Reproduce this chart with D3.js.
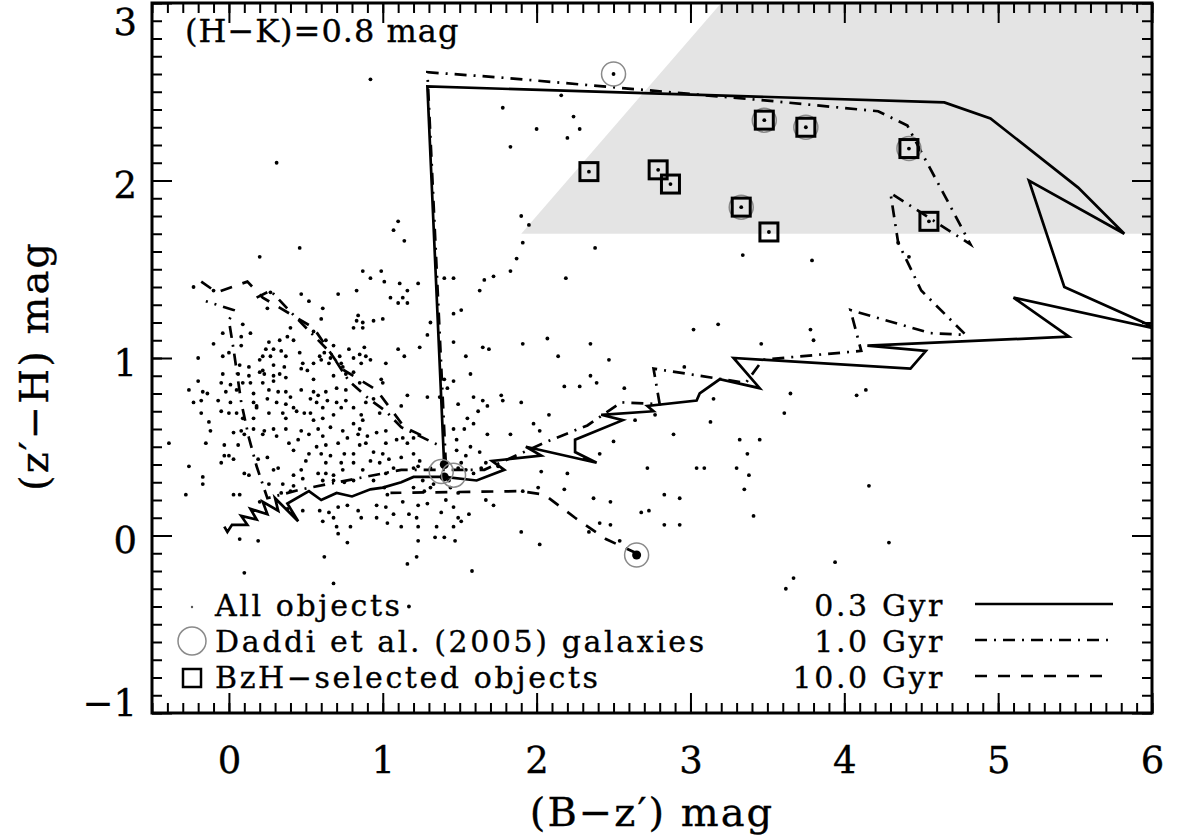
<!DOCTYPE html>
<html>
<head>
<meta charset="utf-8">
<script src="https://cdn.jsdelivr.net/npm/d3@7"></script>
<style>
body { margin: 0; background: #fff; }
text { font-family: "DejaVu Serif", serif; fill: #000; stroke: #000; stroke-width: 0.35px; }
</style>
</head>
<body>
<svg id="chart" width="1181" height="838"></svg>
<script>
// axis ticks
var xTicks = [0, 1, 2, 3, 4, 5, 6];
var yTicks = [-1, 0, 1, 2, 3];

// BzH selection region (grey)
var shadeRegion = [[1.9, 1.7], [3.2, 3.0], [6.0, 3.0], [6.0, 1.7]];

// all objects, (B-z', z'-H)
var allObjects = [
 [-0.23,1.40],[-0.10,1.38],[0.87,1.49],[0.92,1.45],[0.99,1.49],[1.01,1.43],[0.27,1.37],[0.47,1.36],[0.71,1.36],[0.83,1.38],
 [0.52,1.32],[0.61,1.28],[0.25,1.28],[0.60,1.22],[0.84,1.24],[0.83,1.21],[0.87,1.20],[0.94,1.21],[1.00,1.22],[0.81,1.17],
 [0.87,1.17],[0.09,1.19],[-0.04,1.14],[0.08,1.12],[0.14,1.14],[0.40,1.17],[0.55,1.15],[0.38,1.12],[0.26,1.09],[0.33,1.10],
 [0.42,1.10],[-0.10,1.08],[0.08,1.07],[0.63,1.10],[0.68,1.07],[0.62,1.03],[0.78,1.05],[0.85,1.02],[0.88,1.06],[0.24,1.05],
 [0.29,1.05],[0.34,1.04],[0.22,1.01],[0.27,1.01],[0.37,1.01],[0.46,1.03],[-0.20,1.00],[-0.04,1.01],[0.00,1.03],[0.07,0.96],
 [0.20,0.99],[0.48,0.97],[0.59,1.01],[0.60,0.99],[0.66,1.00],[0.72,1.01],[0.73,0.97],[0.74,0.95],[0.81,1.00],[0.89,1.01],
 [0.92,0.99],[0.86,0.97],[0.13,0.95],[0.22,0.93],[0.29,0.96],[0.36,0.95],[0.47,0.94],[0.51,0.93],[0.55,0.97],[0.65,0.97],
 [-0.04,0.91],[0.06,0.91],[0.13,0.90],[0.20,0.92],[0.23,0.91],[0.29,0.90],[0.33,0.91],[0.37,0.89],[0.29,0.87],[0.55,0.88],
 [0.68,0.90],[0.76,0.91],[0.81,0.92],[0.85,0.86],[0.99,0.88],[1.00,0.86],[-0.20,0.87],[-0.05,0.86],[0.01,0.85],[0.09,0.86],
 [0.14,0.86],[0.22,0.86],[-0.26,0.82],[-0.17,0.81],[-0.14,0.80],[-0.02,0.81],[0.05,0.82],[0.16,0.80],[0.26,0.82],[0.32,0.81],
 [0.37,0.81],[0.40,0.78],[0.47,0.82],[0.55,0.81],[0.58,0.79],[0.63,0.81],[0.70,0.83],[0.76,0.82],[-0.23,0.75],[-0.18,0.76],
 [-0.07,0.76],[0.01,0.75],[0.16,0.75],[0.18,0.73],[0.25,0.77],[0.31,0.75],[0.37,0.74],[0.42,0.72],[0.53,0.77],[0.57,0.75],
 [0.64,0.76],[0.70,0.75],[0.76,0.76],[0.89,0.75],[0.94,0.77],[-0.18,0.69],[-0.05,0.70],[0.00,0.69],[0.05,0.69],[0.18,0.72],
 [0.26,0.69],[0.35,0.69],[0.44,0.70],[0.49,0.69],[0.53,0.69],[0.61,0.72],[0.68,0.68],[0.73,0.72],[0.81,0.72],[0.86,0.68],
 [0.98,0.69],[-0.13,0.64],[0.09,0.66],[0.16,0.66],[0.37,0.66],[0.55,0.65],[0.61,0.66],[0.81,0.63],[0.87,0.65],[-0.12,0.59],
 [0.03,0.58],[0.08,0.59],[0.16,0.60],[0.23,0.59],[0.29,0.60],[0.37,0.60],[0.47,0.59],[0.58,0.60],[0.66,0.61],[0.74,0.59],
 [0.85,0.60],[0.96,0.58],
 [1.02,0.59],[1.02,0.52],[1.09,0.54],[1.13,0.55],[1.16,0.52],[1.20,0.55],[0.94,0.47],[1.00,0.46],[1.12,0.44],[1.20,0.46],
 [1.24,0.42],[0.98,0.41],[1.04,0.43],[1.07,0.38],[1.02,0.35],[0.94,0.31],[1.20,0.38],[1.23,0.39],[1.31,0.38],[1.26,0.31],
 [1.33,0.29],[1.43,0.31],[1.49,0.38],[1.54,0.37],[1.59,0.35],[1.51,0.41],[1.54,0.45],[1.48,0.48],[1.57,0.50],[1.63,0.47],
 [1.67,0.41],[1.75,0.39],[1.64,0.38],[1.48,0.54],[1.46,0.60],[1.53,0.60],[1.59,0.63],[1.68,0.57],[1.55,0.66],[1.62,0.70],
 [1.65,0.76],[1.68,0.73],[1.59,0.78],[1.42,0.83],[1.46,0.87],[1.37,0.78],[1.49,0.74],[1.29,0.78],[1.16,0.79],[1.12,0.73],
 [1.01,0.27],[1.03,0.23],[1.20,0.27],[1.27,0.25],[1.31,0.27],[1.44,0.27],[1.49,0.24],[0.96,0.17],[1.02,0.16],[1.13,0.19],
 [1.23,0.17],[1.29,0.18],[1.41,0.20],[1.46,0.16],[1.38,0.13],[1.49,0.10],[1.56,0.12],[1.67,0.20],[1.72,0.17],[0.96,0.10],
 [1.07,0.12],[1.17,0.12],[1.03,0.07],[1.12,0.05],[1.35,0.05],[1.46,0.05],[1.51,0.08],[1.23,0.05],[1.22,0.10],
 [0.10,0.57],[0.22,0.57],[0.31,0.56],[0.52,0.57],[0.61,0.56],[0.77,0.55],[0.84,0.57],[0.90,0.56],[-0.15,0.52],[-0.03,0.51],
 [0.06,0.51],[0.39,0.52],[0.45,0.54],[0.57,0.50],[0.63,0.51],[0.71,0.52],[0.85,0.51],[0.89,0.52],[-0.03,0.45],[0.03,0.43],
 [0.42,0.48],[0.52,0.46],[0.60,0.46],[0.66,0.45],[0.75,0.46],[0.81,0.46],[-0.05,0.41],[0.25,0.44],[0.50,0.42],[0.63,0.41],
 [0.73,0.41],[0.81,0.41],[0.92,0.42],[0.19,0.43],[0.10,0.35],[0.13,0.34],[0.29,0.37],[0.32,0.38],[0.42,0.34],[0.47,0.37],
 [0.58,0.35],[0.63,0.35],[0.68,0.34],[0.74,0.37],[0.87,0.37],[-0.17,0.33],[-0.17,0.29],[0.26,0.29],[0.35,0.29],[0.42,0.28],
 [0.48,0.32],[0.61,0.31],[0.68,0.31],[0.75,0.30],[0.81,0.31],[0.03,0.23],[0.07,0.23],[0.34,0.24],[0.40,0.25],[0.20,0.19],
 [0.38,0.15],[0.48,0.14],[0.59,0.14],[0.65,0.13],[0.71,0.16],[0.77,0.17],[0.84,0.14],[0.61,0.08],[0.68,0.10],[0.70,0.05],
 [0.86,0.10],[0.79,0.05],[0.07,-0.02],[0.19,-0.03],[0.71,0.01],[0.77,-0.04],
 [0.20,1.57],[1.11,1.42],[1.23,1.42],[1.16,1.38],[1.05,1.34],[1.13,1.34],[1.10,1.31],[1.16,1.31],[1.40,1.45],[1.46,1.45],
 [1.66,1.44],[1.72,1.46],[1.63,1.38],[-0.39,0.52],[-0.28,0.23],[-0.26,0.39],[1.46,1.25],[1.51,1.27],[1.31,1.20],[1.46,1.09],
 [1.65,1.06],[1.69,1.05],[1.24,1.06],[1.29,1.13],[1.54,1.01],[1.10,1.05],[1.02,0.97],[1.14,1.01],[1.40,0.88],[1.57,0.91],
 [2.19,1.45],[1.83,1.49],[2.07,1.11],[1.91,1.08],[2.14,1.01],[2.35,1.08],[2.47,0.99],[3.02,1.16],[3.18,1.19],[3.46,1.08],
 [3.78,1.16],[3.80,1.10],[3.61,0.69],[3.65,0.80],[4.08,0.79],[4.16,0.28],[4.29,-0.04],[3.94,-0.15],[3.62,-0.30],[3.41,0.11],
 [3.35,0.26],[3.38,0.34],[3.30,0.38],[3.37,0.46],[3.32,0.54],[3.45,0.54],[3.13,0.64],[3.15,0.77],[2.93,0.21],[2.83,0.23],
 [2.93,0.06],[2.83,0.06],[2.73,0.14],[2.68,0.13],[2.72,0.38],[3.04,0.38],[3.09,0.38],[2.89,0.57],[2.96,0.95],[2.77,0.68],
 [2.64,0.65],[2.57,0.83],[2.50,0.53],[2.41,0.46],[2.35,0.90],[2.39,0.86],[2.28,0.84],[2.18,0.84],[2.08,0.68],[1.98,0.63],
 [2.02,0.59],[1.83,0.57],[1.90,0.75],[1.77,0.79],[1.78,0.76],[2.18,0.26],[2.01,0.27],[1.91,0.25],[2.03,0.36],[2.20,0.35],
 [2.31,0.43],[2.37,0.21],[2.48,0.19],[2.41,0.07],[2.48,0.06],[2.34,0.02],[2.54,-0.03],[2.02,-0.05],[1.90,0.02],[1.58,-0.20],
 [1.47,-0.03],[1.40,-0.01],[1.34,-0.01],[1.22,-0.12],[1.16,-0.16],[1.23,-0.03],
 [2.16,2.48],[1.78,2.41],[2.24,2.36],[2.00,2.29],[2.28,2.29],[2.20,2.24],[1.83,2.19],[1.90,1.80],[1.95,1.75],[1.91,1.65],
 [2.38,1.62],[1.87,1.56],[3.34,1.58],[3.79,1.55],[4.35,1.65],[4.42,1.57],
 [4.14,0.82],[0.92,2.57],[0.31,2.10],[1.07,1.72],[0.46,1.62],[1.14,1.66],[1.10,1.77],[0.00,0.45],[0.10,-0.21],[0.62,-0.12],
 [0.68,-0.27],[1.17,-0.40],[3.67,-0.24],[2.50,2.60]
];

// Daddi et al. (2005) galaxies
var daddiGalaxies = [[2.50,2.60],[3.48,2.34],[3.75,2.30],[4.42,2.18],[3.33,1.85],[2.65,-0.11],[1.38,0.36],[1.46,0.34]];

// BzH-selected objects
var bzhObjects = [[2.34,2.05],[2.79,2.06],[2.87,1.98],[3.48,2.34],[3.75,2.30],[4.42,2.18],[3.33,1.85],[3.51,1.71],[4.55,1.77]];

// z=0 ends of the model tracks
var trackEnds = [[1.40,0.40],[1.40,0.33],[2.65,-0.11]];

// 0.3 Gyr model track
var track03 = [
 [-0.03,0.05],[-0.01,0.02],[0.02,0.06],[0.12,0.06],[0.08,0.11],[0.18,0.09],[0.14,0.15],[0.25,0.12],[0.22,0.19],[0.32,0.14],
 [0.30,0.21],[0.45,0.08],[0.38,0.18],[0.52,0.25],[0.60,0.20],[0.70,0.24],[0.80,0.22],[0.92,0.26],[1.00,0.27],[1.12,0.30],
 [1.20,0.33],[1.40,0.33],[1.61,0.31],[1.79,0.37],[1.71,0.42],[2.03,0.45],[1.93,0.50],[2.39,0.41],[2.25,0.47],[2.25,0.54],
 [2.56,0.65],[2.42,0.68],[2.76,0.70],[2.72,0.73],[3.04,0.76],[3.06,0.80],[3.19,0.88],[3.45,0.83],[3.28,1.00],[4.43,0.94],
 [4.53,1.04],[4.15,1.07],[5.46,1.12],[5.10,1.34],[6.05,1.16],[5.43,1.40],[5.20,2.00],[5.82,1.70],[5.52,1.96],[4.95,2.35],
 [4.65,2.44],[1.29,2.53],[1.40,0.38]
];

// 1.0 Gyr model track (pieces)
var track10 = [
 [[1.41,0.40],[1.29,2.61],[1.77,2.58],[2.70,2.51],[3.50,2.45],[4.22,2.39],[4.41,2.31],[4.47,2.21],[4.68,1.87],[4.82,1.64],
  [4.30,1.93],[4.35,1.65],[4.50,1.38],[4.79,1.13],[4.56,1.14],[4.04,1.27],[4.11,1.04],[3.47,0.99],[3.36,0.86],[2.76,0.94],
  [2.80,0.74],[2.55,0.75],[2.33,0.62],[2.07,0.53],[1.66,0.37],[1.12,0.37],[0.47,0.26],[0.25,0.21],[0.18,0.39],[0.13,0.55],
  [0.08,0.75],[0.03,1.05],[0.00,1.21],[0.03,1.27],[-0.15,1.32]],
 [[0.18,1.34],[0.27,1.38],[0.40,1.26],[0.66,1.03],[0.78,0.87],[0.91,0.77],[1.02,0.70],[1.12,0.61],[1.36,0.51]]
];

// 10.0 Gyr model track (pieces)
var track100 = [
 [[2.65,-0.10],[2.45,-0.02],[2.25,0.10],[2.05,0.23],[1.90,0.25],[1.05,0.24]],
 [[-0.18,1.43],[-0.08,1.37],[0.12,1.43],[0.22,1.34],[0.55,1.17],[0.73,0.94],[0.96,0.82],[1.14,0.61],[1.31,0.54]]
];

var legendLeft = ['All objects', 'Daddi et al. (2005) galaxies', 'BzH\u2212selected objects'];
var legendRight = ['0.3 Gyr', '1.0 Gyr', '10.0 Gyr'];
var dashSolid = null, dashDotted = '12,7,2,7', dashDashed = '12,11';

var plot = { left: 152, right: 1152, top: 3, bottom: 713 };
var x = d3.scaleLinear().domain([-0.5, 6]).range([plot.left, plot.right]);
var y = d3.scaleLinear().domain([-1, 3]).range([plot.bottom, plot.top]);
var line = d3.line().x(function(d) { return x(d[0]); }).y(function(d) { return y(d[1]); });

var svg = d3.select('#chart');

svg.append('clipPath').attr('id', 'clip')
	.append('rect')
	.attr('x', plot.left).attr('y', plot.top)
	.attr('width', plot.right - plot.left).attr('height', plot.bottom - plot.top);

var g = svg.append('g').attr('clip-path', 'url(#clip)');

g.append('path')
	.datum(shadeRegion)
	.attr('d', line)
	.attr('fill', '#e4e4e4');

g.selectAll('circle.obj')
	.data(allObjects)
	.join('circle')
	.attr('class', 'obj')
	.attr('cx', function(d) { return x(d[0]); })
	.attr('cy', function(d) { return y(d[1]); })
	.attr('r', 1.9)
	.attr('fill', '#000');

var tracks = [
	{ pieces: [track03], dash: dashSolid },
	{ pieces: track10, dash: dashDotted },
	{ pieces: track100, dash: dashDashed }
];
tracks.forEach(function(t) {
	g.selectAll(null)
		.data(t.pieces)
		.join('path')
		.attr('d', line)
		.attr('fill', 'none')
		.attr('stroke', '#000')
		.attr('stroke-width', 2.7)
		.attr('stroke-dasharray', t.dash);
});

g.selectAll('circle.end')
	.data(trackEnds)
	.join('circle')
	.attr('class', 'end')
	.attr('cx', function(d) { return x(d[0]); })
	.attr('cy', function(d) { return y(d[1]); })
	.attr('r', 4.5)
	.attr('fill', '#000');

g.selectAll('circle.daddi')
	.data(daddiGalaxies)
	.join('circle')
	.attr('class', 'daddi')
	.attr('cx', function(d) { return x(d[0]); })
	.attr('cy', function(d) { return y(d[1]); })
	.attr('r', 12)
	.attr('fill', 'none')
	.attr('stroke', '#8a8a8a')
	.attr('stroke-width', 1.5);

var sq = 18;
g.selectAll('rect.bzh')
	.data(bzhObjects)
	.join('rect')
	.attr('class', 'bzh')
	.attr('x', function(d) { return x(d[0]) - sq / 2; })
	.attr('y', function(d) { return y(d[1]) - sq / 2; })
	.attr('width', sq).attr('height', sq)
	.attr('fill', 'none')
	.attr('stroke', '#000')
	.attr('stroke-width', 3);

g.selectAll('circle.bzhdot')
	.data(bzhObjects)
	.join('circle')
	.attr('cx', function(d) { return x(d[0]); })
	.attr('cy', function(d) { return y(d[1]); })
	.attr('r', 1.9);

// axes, ticks pointing inwards on all four sides
var xMinor = x.ticks(65), yMinor = y.ticks(40);
function styleAxis(sel) {
	sel.select('.domain').remove();
	sel.selectAll('.tick line').attr('stroke-width', 2);
	sel.selectAll('text').attr('font-family', 'DejaVu Serif').attr('font-size', 37);
}
var noLabel = function() { return ''; };

svg.append('g').attr('transform', 'translate(0,' + plot.bottom + ')')
	.call(d3.axisBottom(x).tickValues(xMinor).tickSize(-10).tickFormat(noLabel)).call(styleAxis);
svg.append('g').attr('transform', 'translate(0,' + plot.bottom + ')')
	.call(d3.axisBottom(x).tickValues(xTicks).tickSize(-20).tickPadding(34).tickFormat(d3.format('d'))).call(styleAxis);
svg.append('g').attr('transform', 'translate(0,' + plot.top + ')')
	.call(d3.axisTop(x).tickValues(xMinor).tickSize(-10).tickFormat(noLabel)).call(styleAxis);
svg.append('g').attr('transform', 'translate(0,' + plot.top + ')')
	.call(d3.axisTop(x).tickValues(xTicks).tickSize(-20).tickFormat(noLabel)).call(styleAxis);

svg.append('g').attr('transform', 'translate(' + plot.left + ',0)')
	.call(d3.axisLeft(y).tickValues(yMinor).tickSize(-10).tickFormat(noLabel)).call(styleAxis);
var yAx = svg.append('g').attr('transform', 'translate(' + plot.left + ',0)')
	.call(d3.axisLeft(y).tickValues(yTicks).tickSize(-20).tickPadding(15).tickFormat(d3.format('d'))).call(styleAxis);
yAx.selectAll('text')
	.attr('dy', function(d) { return (Math.min(Math.max(y(d) + 17, 34), 715) - y(d)) + 'px'; });
svg.append('g').attr('transform', 'translate(' + plot.right + ',0)')
	.call(d3.axisRight(y).tickValues(yMinor).tickSize(-10).tickFormat(noLabel)).call(styleAxis);
svg.append('g').attr('transform', 'translate(' + plot.right + ',0)')
	.call(d3.axisRight(y).tickValues(yTicks).tickSize(-20).tickFormat(noLabel)).call(styleAxis);

svg.append('rect')
	.attr('x', plot.left).attr('y', plot.top)
	.attr('width', plot.right - plot.left).attr('height', plot.bottom - plot.top)
	.attr('fill', 'none').attr('stroke', '#000').attr('stroke-width', 3);

// axis titles
svg.append('text')
	.attr('x', (plot.left + plot.right) / 2).attr('y', 826)
	.attr('text-anchor', 'middle').attr('font-size', 40).attr('letter-spacing', 2)
	.text('(B\u2212z\u2032) mag');
svg.append('text')
	.attr('transform', 'translate(48,' + ((plot.top + plot.bottom) / 2 + 8) + ') rotate(-90)')
	.attr('text-anchor', 'middle').attr('font-size', 40).attr('letter-spacing', 2)
	.text('(z\u2032\u2212H) mag');

svg.append('text')
	.attr('x', 185).attr('y', 42).attr('font-size', 32).attr('letter-spacing', 1)
	.text('(H\u2212K)=0.8 mag');

// legend, left block
var lg = svg.append('g');
var rowY = [616, 652, 688];
lg.append('circle').attr('cx', 192).attr('cy', 607).attr('r', 1.2).attr('fill', '#555');
lg.append('circle').attr('cx', 192).attr('cy', 641).attr('r', 14)
	.attr('fill', 'none').attr('stroke', '#8a8a8a').attr('stroke-width', 1.5);
lg.append('rect').attr('x', 183).attr('y', 669).attr('width', 18).attr('height', 18)
	.attr('fill', 'none').attr('stroke', '#000').attr('stroke-width', 2.5);
lg.selectAll('text.l')
	.data(legendLeft)
	.join('text')
	.attr('x', 215)
	.attr('y', function(d, i) { return rowY[i]; })
	.attr('font-size', 30)
	.attr('letter-spacing', 2.6)
	.text(function(d) { return d; });

// legend, right block
var dashes = [dashSolid, dashDotted, dashDashed];
lg.selectAll('text.r')
	.data(legendRight)
	.join('text')
	.attr('x', 945)
	.attr('y', function(d, i) { return rowY[i]; })
	.attr('text-anchor', 'end')
	.attr('font-size', 30)
	.attr('letter-spacing', 2.6)
	.text(function(d) { return d; });
lg.selectAll('line.r')
	.data(dashes)
	.join('line')
	.attr('x1', 975).attr('x2', 1113)
	.attr('y1', function(d, i) { return rowY[i] - 12; })
	.attr('y2', function(d, i) { return rowY[i] - 12; })
	.attr('stroke', '#000').attr('stroke-width', 2.5)
	.attr('stroke-dasharray', function(d) { return d; });
</script>
</body>
</html>
